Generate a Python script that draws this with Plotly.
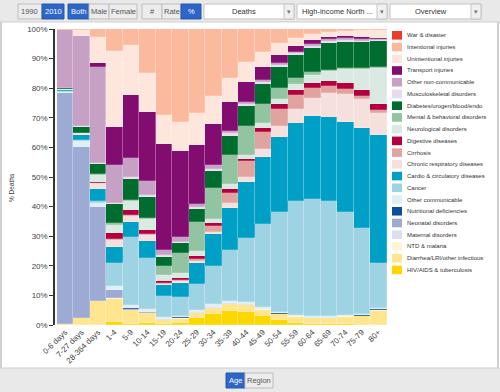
import plotly.graph_objects as go

ages = ["0-6 days", "7-27 days", "28-364 days", "1-4", "5-9", "10-14", "15-19",
        "20-24", "25-29", "30-34", "35-39", "40-44", "45-49", "50-54", "55-59",
        "60-64", "65-69", "70-74", "75-79", "80+"]

# % of deaths by cause (bottom of stack first)
hiv_tb        = [0.0, 0.0, 0.0, 1.1, 0.5, 0.8, 0.5, 0.8, 2.2, 3.7, 4.8, 4.5, 3.0, 1.7, 0.8, 0.5, 0.3, 0.2, 0.1, 0.1]
diarrhea_lri  = [0.4, 2.2, 7.9, 7.5, 4.4, 3.1, 1.2, 1.4, 1.7, 1.9, 2.2, 2.3, 2.2, 2.0, 2.0, 1.7, 2.0, 2.6, 2.9, 4.8]
ntd_malaria   = [0.0, 0.0, 0.0, 0.2, 0.1, 0.1, 0.1, 0.1, 0.1, 0.1, 0.1, 0.1, 0.1, 0.1, 0.1, 0.1, 0.1, 0.1, 0.1, 0.1]
maternal      = [0.0, 0.0, 0.0, 0.0, 0.0, 0.0, 0.2, 0.2, 0.3, 0.3, 0.2, 0.1, 0.1, 0.0, 0.0, 0.0, 0.0, 0.0, 0.0, 0.0]
neonatal      = [78.0, 58.0, 31.5, 2.6, 0.5, 0.2, 0.0, 0.0, 0.0, 0.0, 0.0, 0.0, 0.0, 0.0, 0.0, 0.0, 0.0, 0.0, 0.0, 0.0]
nutritional   = [0.0, 0.0, 0.2, 0.2, 0.2, 0.1, 0.1, 0.1, 0.1, 0.1, 0.1, 0.1, 0.1, 0.1, 0.1, 0.1, 0.1, 0.2, 0.2, 0.4]
other_comm    = [0.4, 2.0, 1.3, 1.1, 0.9, 1.1, 0.5, 0.6, 0.8, 1.0, 0.7, 0.7, 0.6, 0.6, 0.5, 0.5, 0.4, 0.4, 0.4, 0.4]
cancer        = [0.2, 0.3, 0.6, 7.6, 22.6, 16.9, 7.0, 6.3, 8.4, 12.7, 17.1, 21.8, 27.8, 33.4, 38.3, 39.7, 39.3, 34.7, 29.2, 15.2]
cardio        = [0.4, 1.5, 4.2, 5.4, 5.0, 5.6, 3.7, 4.6, 7.1, 10.9, 14.4, 19.1, 22.7, 25.4, 26.4, 28.2, 28.8, 30.8, 33.8, 43.6]
chronic_resp  = [0.1, 0.4, 1.9, 2.3, 2.2, 2.2, 0.6, 0.8, 0.7, 0.8, 1.5, 1.7, 2.6, 3.7, 4.5, 6.1, 7.9, 9.4, 9.9, 7.4]
cirrhosis     = [0.0, 0.0, 0.0, 0.5, 0.4, 0.4, 0.3, 0.5, 0.8, 2.0, 3.4, 5.2, 6.0, 5.6, 4.9, 3.2, 2.5, 1.7, 1.1, 0.8]
digestive     = [0.1, 0.2, 0.3, 1.7, 1.4, 1.3, 0.6, 0.6, 1.1, 1.1, 1.4, 0.9, 1.1, 1.7, 1.6, 1.7, 1.7, 2.0, 2.0, 2.3]
neurological  = [0.1, 0.3, 2.4, 2.8, 3.3, 3.4, 1.9, 1.5, 1.5, 1.3, 1.7, 1.2, 1.9, 1.7, 2.0, 2.8, 3.4, 4.7, 7.0, 12.0]
mental        = [0.0, 0.0, 0.2, 0.5, 0.3, 0.5, 3.2, 7.0, 9.6, 10.5, 9.9, 9.8, 6.2, 3.7, 2.0, 0.9, 0.4, 0.3, 0.3, 0.3]
diabetes      = [0.5, 1.8, 3.4, 6.5, 7.0, 7.1, 2.9, 3.2, 4.5, 5.8, 6.4, 6.7, 6.7, 7.2, 7.9, 8.3, 9.0, 9.0, 9.0, 8.8]
musculo       = [0.1, 0.4, 0.3, 0.3, 0.4, 0.6, 0.6, 0.5, 0.6, 0.6, 0.8, 0.7, 0.7, 0.5, 0.5, 0.5, 0.7, 0.5, 0.4, 0.4]
other_noncomm = [19.3, 30.5, 32.4, 12.3, 6.6, 4.7, 1.8, 1.5, 1.2, 1.3, 0.8, 0.8, 0.8, 0.6, 0.6, 0.6, 0.8, 0.6, 0.5, 0.5]
transport     = [0.0, 0.0, 1.2, 12.6, 20.9, 22.9, 35.8, 29.3, 19.6, 13.8, 9.7, 6.8, 4.5, 3.0, 2.0, 1.5, 0.8, 0.9, 0.8, 0.4]
unintentional = [0.3, 1.9, 8.6, 25.0, 16.6, 12.9, 9.6, 9.9, 10.8, 9.7, 8.1, 6.7, 5.0, 3.8, 2.7, 1.9, 1.5, 1.6, 2.2, 2.7]
intentional   = [0.2, 0.4, 2.8, 7.4, 5.4, 14.8, 29.0, 31.5, 28.2, 22.5, 16.7, 11.3, 7.7, 4.8, 2.9, 1.8, 1.1, 0.7, 0.4, 0.2]
war_disaster  = [0.0] * 20

y_ticks = [0, 10, 20, 30, 40, 50, 60, 70, 80, 90, 100]
y_tick_labels = ["0%", "10%", "20%", "30%", "40%", "50%", "60%", "70%", "80%", "90%", "100%"]

series = [
    ("HIV/AIDS & tuberculosis", hiv_tb, "#fcd700"),
    ("Diarrhea/LRI/other infectious", diarrhea_lri, "#ffe68e"),
    ("NTD & malaria", ntd_malaria, "#fff4d5"),
    ("Maternal disorders", maternal, "#dbdff0"),
    ("Neonatal disorders", neonatal, "#9daad4"),
    ("Nutritional deficiencies", nutritional, "#0a509e"),
    ("Other communicable", other_comm, "#deeff5"),
    ("Cancer", cancer, "#9ed3e3"),
    ("Cardio & circulatory diseases", cardio, "#00a0c6"),
    ("Chronic respiratory diseases", chronic_resp, "#f6e0de"),
    ("Cirrhosis", cirrhosis, "#e0a3a0"),
    ("Digestive diseases", digestive, "#b5003f"),
    ("Neurological disorders", neurological, "#dae9e1"),
    ("Mental & behavioral disorders", mental, "#92c4a1"),
    ("Diabetes/urogen/blood/endo", diabetes, "#006d2e"),
    ("Musculoskeletal disorders", musculo, "#e7dcec"),
    ("Other non-communicable", other_noncomm, "#c7a0c6"),
    ("Transport injuries", transport, "#830c70"),
    ("Unintentional injuries", unintentional, "#fee6dc"),
    ("Intentional injuries", intentional, "#fbb99d"),
    ("War & disaster", war_disaster, "#ee3a2a"),
]

# pixel geometry
L, W, T, H = 55, 332, 29, 296
def px(x):
    return (x - L) / W
def py(y):
    return (T + H - y) / H

fig = go.Figure()
for name, vals, col in series:
    fig.add_trace(go.Bar(x=ages, y=vals, name=name,
                         marker=dict(color=col, line=dict(width=0.5, color="rgba(255,255,255,0.35)"))))

FONT = "Liberation Sans, Arial, sans-serif"
shapes = []
ann = []

# panels
shapes.append(dict(type="rect", xref="paper", yref="paper", x0=px(0), x1=px(500), y0=py(0), y1=py(22),
                   fillcolor="#e9e9e9", line=dict(width=0), layer="below"))
shapes.append(dict(type="line", xref="paper", yref="paper", x0=px(0), x1=px(500), y0=py(22), y1=py(22),
                   line=dict(color="#cfcfcf", width=1)))
shapes.append(dict(type="rect", xref="paper", yref="paper", x0=px(0), x1=px(500), y0=py(368), y1=py(392),
                   fillcolor="#e9e9e9", line=dict(width=0), layer="below"))
shapes.append(dict(type="line", xref="paper", yref="paper", x0=px(0), x1=px(500), y0=py(368), y1=py(368),
                   line=dict(color="#cfcfcf", width=1)))
for xx in (1, 498):
    shapes.append(dict(type="line", xref="paper", yref="paper", x0=px(xx), x1=px(xx), y0=py(22), y1=py(368),
                       line=dict(color="#d0d0d0", width=2)))

def button(x0, x1, y0, y1, label, active):
    shapes.append(dict(type="rect", xref="paper", yref="paper", x0=px(x0), x1=px(x1), y0=py(y1), y1=py(y0),
                       fillcolor="#2e66c8" if active else "#ececec",
                       line=dict(color="#2456ad" if active else "#bdbdbd", width=1)))
    ann.append(dict(xref="paper", yref="paper", x=px((x0 + x1) / 2), y=py((y0 + y1) / 2), text=label,
                    showarrow=False, xanchor="center", yanchor="middle",
                    font=dict(family=FONT, size=7.5, color="#ffffff" if active else "#555555")))

def dropdown(x0, x1, label, align):
    y0, y1 = 4, 19
    shapes.append(dict(type="rect", xref="paper", yref="paper", x0=px(x0), x1=px(x1), y0=py(y1), y1=py(y0),
                       fillcolor="#ffffff", line=dict(color="#c4c4c4", width=1)))
    shapes.append(dict(type="rect", xref="paper", yref="paper", x0=px(x1 - 10), x1=px(x1), y0=py(y1), y1=py(y0),
                       fillcolor="#f0f0f0", line=dict(color="#c4c4c4", width=1)))
    if align == "center":
        ann.append(dict(xref="paper", yref="paper", x=px((x0 + x1 - 10) / 2), y=py(11.5), text=label,
                        showarrow=False, xanchor="center", yanchor="middle",
                        font=dict(family=FONT, size=7.5, color="#333333")))
    else:
        ann.append(dict(xref="paper", yref="paper", x=px(x0 + 3), y=py(11.5), text=label,
                        showarrow=False, xanchor="left", yanchor="middle",
                        font=dict(family=FONT, size=7.5, color="#333333")))
    ann.append(dict(xref="paper", yref="paper", x=px(x1 - 5), y=py(12), text="▾",
                    showarrow=False, xanchor="center", yanchor="middle",
                    font=dict(family="DejaVu Sans", size=7, color="#777777")))

button(18, 42, 4, 19, "1990", False)
button(42, 64, 4, 19, "2010", True)
button(68, 89, 4, 19, "Both", True)
button(89, 109, 4, 19, "Male", False)
button(109, 137, 4, 19, "Female", False)
button(142, 162, 4, 19, "#", False)
button(162, 181, 4, 19, "Rate", False)
button(181, 201, 4, 19, "%", True)
dropdown(204, 294, "Deaths", "center")
dropdown(297, 387, "High-income North ...", "left")
dropdown(390, 481, "Overview", "center")
button(226, 245, 373, 388, "Age", True)
button(245, 273, 373, 388, "Region", False)

# custom legend (top item = top of stack)
for i, (name, vals, col) in enumerate(reversed(series)):
    yc = 35.3 + i * 11.73
    shapes.append(dict(type="rect", xref="paper", yref="paper", x0=px(392), x1=px(402),
                       y0=py(yc + 4.3), y1=py(yc - 4.3), fillcolor=col, line=dict(width=0)))
    ann.append(dict(xref="paper", yref="paper", x=px(405), y=py(yc), text=name,
                    showarrow=False, xanchor="left", yanchor="middle",
                    font=dict(family=FONT, size=6, color="#333333")))

# y-axis title
ann.append(dict(xref="paper", yref="paper", x=px(11), y=py(188), text="% Deaths", textangle=-90,
                showarrow=False, xanchor="center", yanchor="middle",
                font=dict(family=FONT, size=6.5, color="#333333")))

fig.update_layout(
    barmode="stack", barnorm="percent", bargap=0,
    width=500, height=392,
    margin=dict(l=L, r=500 - L - W, t=T, b=392 - T - H, pad=0),
    paper_bgcolor="#ffffff", plot_bgcolor="#ffffff",
    showlegend=False,
    font=dict(family=FONT, size=8, color="#444444"),
    shapes=shapes, annotations=ann,
    xaxis=dict(range=[-0.603, 19.53], showgrid=False, zeroline=False, showline=False,
               ticks="", tickangle=-45, tickfont=dict(size=8, color="#444444"), fixedrange=True),
    yaxis=dict(range=[0, 100], tickmode="array", tickvals=y_ticks, ticktext=y_tick_labels,
               showgrid=False, zeroline=False, showline=True, linecolor="#333333", linewidth=1.5,
               ticks="outside", ticklen=4, tickwidth=1, tickcolor="#333333",
               tickfont=dict(size=8, color="#444444"), fixedrange=True),
)

fig.write_html("out.html", config={"displayModeBar": False},
               post_script="document.body.style.margin='0';document.body.style.overflow='hidden';")
